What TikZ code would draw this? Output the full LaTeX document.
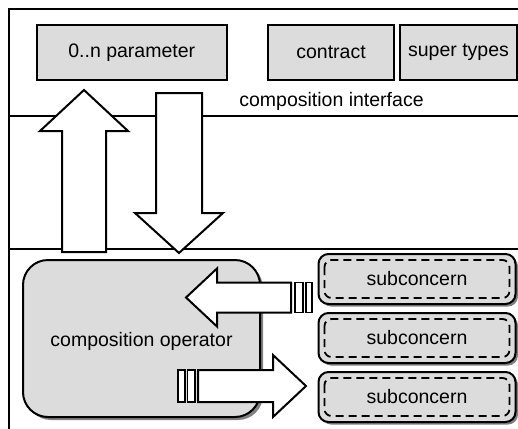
\documentclass[tikz,border=0pt]{standalone}
\usepackage{fontspec}
\setmainfont{Liberation Sans}
\usetikzlibrary{shadows}

\definecolor{boxgray}{RGB}{220,220,220}

\tikzset{
	part/.style={draw, line width=2pt, fill=boxgray, inner sep=0pt},
	sub/.style={part, rounded corners=10pt, minimum width=197pt, minimum height=50pt,
		drop shadow={shadow xshift=2.5pt, shadow yshift=-2.5pt, fill=gray, opacity=1}},
	blockarrow/.style={draw, fill=white, line width=2pt},
	tailbar/.style={draw, fill=white, line width=1.5pt}
}

\begin{document}
\begin{tikzpicture}[x=1pt, y=-1pt, font=\fontsize{19.5}{23}\selectfont]
	\def\Fx{9}
	\def\Fy{9}
	\def\La{116}
	\def\Lb{249}
	\def\In{7}

	\useasboundingbox (0,0) rectangle (518,428);

	\draw[line width=2pt]	(540,\Fy) -- (\Fx,\Fy) -- (\Fx,450);
	\draw[line width=2pt]	(\Fx,\La) -- (540,\La);
	\draw[line width=2pt]	(\Fx,\Lb) -- (540,\Lb);

	\node[part, minimum width=190pt, minimum height=55pt] (param) at (131.75,52.5) {0..n parameter};
	\node[part, minimum width=126pt, minimum height=55pt] (contract) at (331,52.5) {contract};
	\node[part, minimum width=117pt, minimum height=55pt] (super) at (458.5,52.5) {super types};
	\node (iface) at (331.5,101.5) {composition interface};

	\node[part, rounded corners=25pt, minimum width=237pt, minimum height=157pt,
		drop shadow={shadow xshift=3pt, shadow yshift=-3pt, fill=gray, opacity=1}] (op) at (141.5,338.5) {};
	\node (oplabel) at (141.5,341) {composition operator};

	\foreach \i/\y in {1/279, 2/338, 3/397} {
		\node[sub] (sub\i) at (417,\y) {subconcern};
		\draw[line width=1.8pt, dash pattern=on 8pt off 5pt, rounded corners=7pt]
			([shift={(\In,\In)}]sub\i.north west) rectangle ([shift={(-\In,-\In)}]sub\i.south east);
	}

	\filldraw[blockarrow]	(62,252) -- (62,131) -- (40,131) -- (84,90) -- (128,131) -- (106,131) -- (106,252) -- cycle;
	\filldraw[blockarrow]	(156,93) -- (202,93) -- (202,213) -- (223,213) -- (179,253) -- (135,213) -- (156,213) -- cycle;

	\filldraw[blockarrow]	(291,282.5) -- (217,282.5) -- (217,268.5) -- (186,297.5) -- (217,326.5) -- (217,312.5) -- (291,312.5) -- cycle;
	\filldraw[tailbar]		(295,282.5) rectangle (303,312.5);
	\filldraw[tailbar]		(306,282.5) rectangle (312,312.5);

	\filldraw[blockarrow]	(198,370) -- (273,370) -- (273,355) -- (306,386) -- (273,417) -- (273,402) -- (198,402) -- cycle;
	\filldraw[tailbar]		(178,370) rectangle (185,402);
	\filldraw[tailbar]		(187.5,370) rectangle (195,402);
\end{tikzpicture}
\end{document}
